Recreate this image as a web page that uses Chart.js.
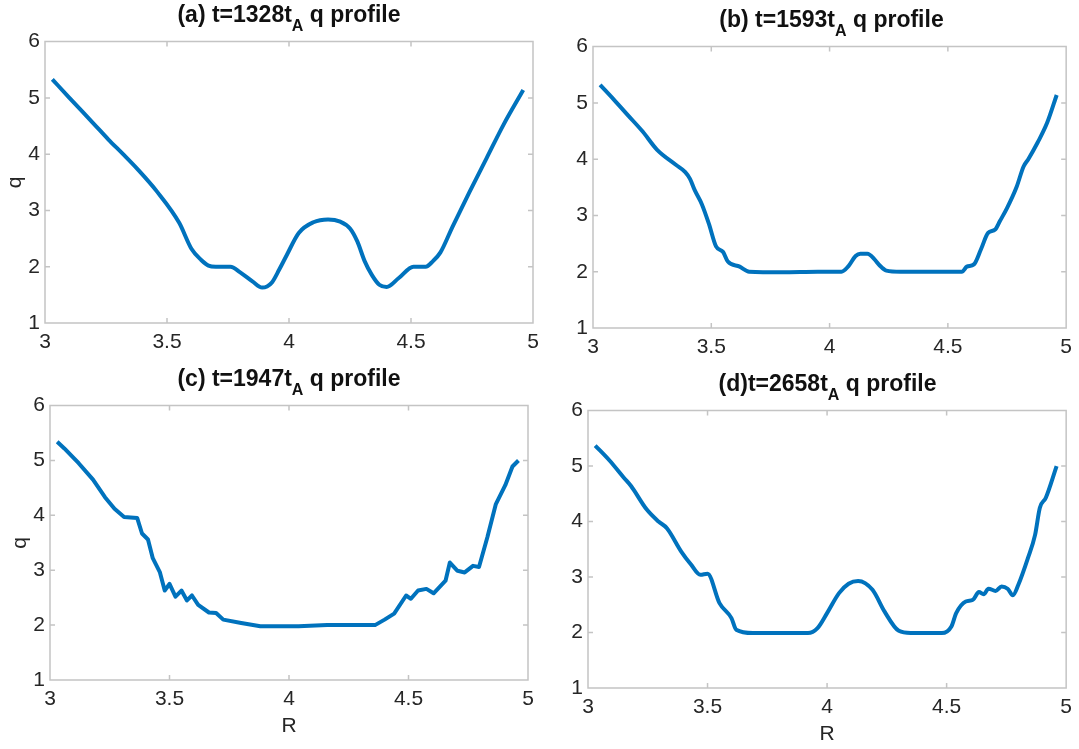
<!DOCTYPE html>
<html>
<head>
<meta charset="utf-8">
<script src="https://cdn.jsdelivr.net/npm/chart.js@4.4.1/dist/chart.umd.min.js"></script>
<style>
  body { margin: 0; background: #fff; width: 1079px; height: 749px; position: relative; overflow: hidden;
         font-family: Arial, "Liberation Sans", sans-serif; }
  canvas { position: absolute; }
  .ttl { position: absolute; font-weight: bold; font-size: 23px; line-height: 23px; color: #111;
         white-space: nowrap; transform: translateX(-50%); }
  .ttl sub { font-size: 16px; vertical-align: -9px; line-height: 0; }
</style>
</head>
<body>
<script>
// q profiles
const rA = [3.03, 3.10, 3.20, 3.26, 3.32, 3.38, 3.46, 3.55, 3.60, 3.64, 3.67, 3.70, 3.76, 3.80, 3.85, 3.89, 3.91, 3.93, 3.96, 3.99,
            4.04, 4.10, 4.16, 4.21, 4.25, 4.28, 4.31, 4.34, 4.37, 4.40, 4.45, 4.51, 4.56, 4.59, 4.62, 4.67, 4.74, 4.81, 4.88, 4.96];
const qA = [5.33, 5.00, 4.54, 4.26, 4.00, 3.73, 3.33, 2.78, 2.32, 2.12, 2.02, 2.00, 2.00, 1.90, 1.74, 1.63, 1.65, 1.72, 1.95, 2.20,
            2.60, 2.79, 2.84, 2.80, 2.68, 2.45, 2.10, 1.85, 1.68, 1.64, 1.80, 2.00, 2.00, 2.10, 2.25, 2.71, 3.33, 3.93, 4.53, 5.14];

const rB = [3.03, 3.09, 3.15, 3.21, 3.27, 3.35, 3.39, 3.41, 3.43, 3.46, 3.49, 3.52, 3.55, 3.57, 3.62, 3.66, 3.80, 3.95, 4.05, 4.08,
            4.11, 4.13, 4.16, 4.19, 4.21, 4.24, 4.30, 4.45, 4.56, 4.58, 4.61, 4.64, 4.67, 4.70, 4.72, 4.75, 4.79, 4.82, 4.84, 4.88, 4.92, 4.96];
const qB = [5.32, 5.05, 4.77, 4.49, 4.17, 3.90, 3.77, 3.65, 3.45, 3.20, 2.85, 2.45, 2.35, 2.18, 2.09, 2.00, 1.99, 2.00, 2.00, 2.10,
            2.28, 2.32, 2.32, 2.22, 2.12, 2.02, 2.00, 2.00, 2.00, 2.09, 2.13, 2.40, 2.69, 2.75, 2.90, 3.13, 3.50, 3.87, 4.00, 4.30, 4.65, 5.14];

const rC = [3.03, 3.06, 3.12, 3.18, 3.23, 3.27, 3.31, 3.365, 3.385, 3.41, 3.43, 3.46, 3.48, 3.50, 3.525, 3.55, 3.573, 3.594, 3.62, 3.665,
            3.695, 3.725, 3.80, 3.88, 4.04, 4.16, 4.36, 4.40, 4.44, 4.49, 4.51, 4.54, 4.575, 4.605, 4.655, 4.673, 4.705, 4.735, 4.77, 4.795,
            4.83, 4.865, 4.905, 4.935, 4.96];
const qC = [5.34, 5.22, 4.95, 4.65, 4.33, 4.12, 3.97, 3.95, 3.67, 3.56, 3.22, 2.96, 2.63, 2.75, 2.52, 2.63, 2.45, 2.54, 2.37, 2.23,
            2.22, 2.10, 2.04, 1.98, 1.98, 2.00, 2.00, 2.10, 2.21, 2.54, 2.48, 2.63, 2.66, 2.58, 2.81, 3.14, 2.99, 2.96, 3.08, 3.06,
            3.60, 4.20, 4.55, 4.89, 5.00];

const rD = [3.03, 3.09, 3.15, 3.18, 3.245, 3.295, 3.33, 3.39, 3.43, 3.47, 3.50, 3.55, 3.60, 3.62, 3.69, 3.92, 3.96, 4.00, 4.05, 4.09,
            4.13, 4.19, 4.24, 4.30, 4.35, 4.48, 4.52, 4.54, 4.58, 4.61, 4.635, 4.655, 4.675, 4.705, 4.73, 4.755, 4.777, 4.80, 4.84, 4.87,
            4.89, 4.915, 4.96];
const qD = [5.37, 5.10, 4.79, 4.64, 4.22, 4.00, 3.88, 3.46, 3.23, 3.04, 3.06, 2.53, 2.26, 2.05, 1.99, 1.99, 2.08, 2.35, 2.71, 2.88,
            2.93, 2.77, 2.38, 2.03, 1.99, 1.99, 2.11, 2.35, 2.56, 2.59, 2.73, 2.69, 2.79, 2.75, 2.83, 2.79, 2.67, 2.86, 3.34, 3.76,
            4.25, 4.43, 5.00];

const titleParts = [
  ["(a) t=1328t", "A", " q profile"],
  ["(b) t=1593t", "A", " q profile"],
  ["(c) t=1947t", "A", " q profile"],
  ["(d)t=2658t", "A", " q profile"]
];
const xTicksStep = 0.5;
const yTicksStep = 1;

// frame boxes (left, top, right, bottom) of each axes on the page
const panels = [
  { r: rA, q: qA, box: [45, 40, 533, 323], x0: 0, bottom: 363, qLabel: true, rLabel: false, smooth: true },
  { r: rB, q: qB, box: [593, 45, 1070, 328], x0: 548, bottom: 368, qLabel: false, rLabel: false, smooth: true },
  { r: rC, q: qC, box: [50, 404, 528, 680], x0: 0, bottom: 749, qLabel: true, rLabel: true, rPad: 10, smooth: false },
  { r: rD, q: qD, box: [588, 409, 1067, 688], x0: 548, bottom: 749, qLabel: false, rLabel: true, rPad: 2, smooth: true }
];

const boxPlugin = {
  id: 'matlabBox',
  beforeDatasetsDraw(chart) {
    const { ctx, chartArea: a, scales: { x, y } } = chart;
    ctx.save();
    ctx.strokeStyle = '#c4c4c4';
    ctx.lineWidth = 1.5;
    ctx.beginPath();
    x.ticks.forEach(t => {
      const px = x.getPixelForValue(t.value);
      ctx.moveTo(px, a.bottom); ctx.lineTo(px, a.bottom - 5);
      ctx.moveTo(px, a.top); ctx.lineTo(px, a.top + 5);
    });
    y.ticks.forEach(t => {
      const py = y.getPixelForValue(t.value);
      ctx.moveTo(a.left, py); ctx.lineTo(a.left + 5, py);
      ctx.moveTo(a.right, py); ctx.lineTo(a.right - 5, py);
    });
    ctx.rect(a.left, a.top, a.right - a.left, a.bottom - a.top);
    ctx.stroke();
    ctx.restore();
  }
};

const tickFont = { family: 'Arial, "Liberation Sans", sans-serif', size: 21 };
const fmt = v => String(+Number(v).toFixed(2));

panels.forEach((p, i) => {
  const [L, T, R, B] = p.box;
  const top = T - 16;
  const right = Math.min(R + 14, 1079);
  const cv = document.createElement('canvas');
  cv.width = right - p.x0;
  cv.height = p.bottom - top;
  cv.style.left = p.x0 + 'px';
  cv.style.top = top + 'px';
  document.body.appendChild(cv);

  const t = document.createElement('div');
  t.className = 'ttl';
  t.style.left = ((L + R) / 2) + 'px';
  t.style.top = (T - 37) + 'px';
  t.innerHTML = titleParts[i][0] + '<sub>' + titleParts[i][1] + '</sub>' + titleParts[i][2];
  document.body.appendChild(t);

  new Chart(cv, {
    type: 'line',
    data: {
      datasets: [{
        data: p.r.map((v, k) => ({ x: v, y: p.q[k] })),
        borderColor: '#0072BD',
        borderWidth: 4,
        borderJoinStyle: 'round',
        pointRadius: 0,
        fill: false,
        cubicInterpolationMode: p.smooth ? 'monotone' : 'default',
        tension: 0
      }]
    },
    options: {
      responsive: false,
      animation: false,
      devicePixelRatio: 1,
      layout: { padding: { top: 16, right: right - R, left: 0, bottom: 0 } },
      plugins: { legend: { display: false }, tooltip: { enabled: false } },
      scales: {
        x: {
          type: 'linear', min: 3, max: 5,
          grid: { display: false, drawTicks: false }, border: { display: false },
          ticks: { stepSize: xTicksStep, font: tickFont, color: '#262626', padding: 7, maxRotation: 0, callback: fmt },
          title: { display: p.rLabel, text: 'R', font: tickFont, color: '#262626', padding: { top: 0, bottom: p.rPad || 0 } },
          afterFit: s => { s.height = p.bottom - B; }
        },
        y: {
          type: 'linear', min: 1, max: 6,
          grid: { display: false, drawTicks: false }, border: { display: false },
          ticks: { stepSize: yTicksStep, font: tickFont, color: '#262626', padding: 5, callback: fmt },
          title: { display: p.qLabel, text: 'q', font: tickFont, color: '#262626', padding: { top: (L - 30) - p.x0 - 12, bottom: 0 } },
          afterFit: s => { s.width = L - p.x0; }
        }
      }
    },
    plugins: [boxPlugin]
  });
});
</script>
</body>
</html>
